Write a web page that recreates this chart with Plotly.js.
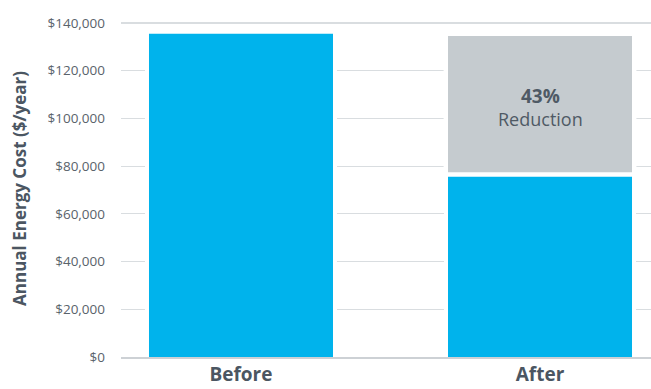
<!DOCTYPE html>
<html><head><meta charset="utf-8">
<script src="https://cdn.plot.ly/plotly-3.0.1.min.js"></script>
<style>html,body{margin:0;padding:0;background:#fff}</style>
</head><body><div id="chart" style="width:651px;height:389px"></div>
<script>
const categories = ["Before", "After"];
const annualCost = [135500, 76500];
const reduction = [0, 59000];
const reductionPct = "43%";
const reductionWord = "Reduction";
const yTickValues = [0, 20000, 40000, 60000, 80000, 100000, 120000, 140000];
const yTickLabels = ["$0", "$20,000", "$40,000", "$60,000", "$80,000", "$100,000", "$120,000", "$140,000"];

const totals = annualCost.map((v, i) => v + reduction[i]);
const redCats = categories.filter((c, i) => reduction[i] > 0);
const redVals = reduction.filter(v => v > 0);
const redBase = annualCost.filter((v, i) => reduction[i] > 0);

const BW = 0.6154;
const GAP = 4.4;
const traces = [
  {type: 'bar', x: categories, y: totals, width: BW, marker: {color: '#ffffff', line: {color: '#ffffff', width: 8}}, hoverinfo: 'skip', showlegend: false},
  {type: 'bar', x: categories, y: annualCost, width: BW, marker: {color: '#00b3ec', line: {width: 0}}, showlegend: false},
  {type: 'bar', x: redCats, y: redVals, base: redBase, width: BW + GAP / 299, marker: {color: '#c5cbcf', line: {color: '#ffffff', width: GAP}}, showlegend: false}
];

const annY = redBase.map((b, i) => b + redVals[i] / 2);
const layout = {
  width: 651, height: 389,
  margin: {l: 121, r: 0, t: 20, b: 32},
  paper_bgcolor: '#ffffff', plot_bgcolor: '#ffffff',
  barmode: 'overlay',
  showlegend: false,
  font: {family: 'Open Sans, sans-serif', color: '#5a636b'},
  xaxis: {
    type: 'category', range: [-0.4013, 1.3712],
    showgrid: false, zeroline: false,
    showline: true, linecolor: '#cdd1d5', linewidth: 1.5,
    ticks: '', ticklabelstandoff: 0,
    tickfont: {family: 'Open Sans, sans-serif', size: 19, color: '#4b5662', weight: 'bold'}
  },
  yaxis: {
    range: [0, 141257],
    tickvals: yTickValues, ticktext: yTickLabels,
    showgrid: true, gridcolor: '#d9dde0', gridwidth: 1.2,
    zeroline: false, showline: false, ticks: '',
    ticklabelstandoff: 15,
    tickfont: {family: 'Open Sans, sans-serif', size: 13.5, color: '#5a636b'},
    title: {text: 'Annual Energy Cost ($/year)', standoff: 16,
      font: {family: 'Open Sans, sans-serif', size: 17, color: '#4b5662', weight: 'bold'}}
  },
  annotations: [
    {x: redCats[0], y: annY[0], xref: 'x', yref: 'y',
     text: '<b><span style="font-size:19px">' + reductionPct + '</span></b><br>' + reductionWord,
     showarrow: false, yshift: -3, align: 'center',
     font: {family: 'Open Sans, sans-serif', size: 18, color: '#4f5a65'}}
  ]
};
Plotly.newPlot('chart', traces, layout, {displayModeBar: false, staticPlot: true});
</script></body></html>
